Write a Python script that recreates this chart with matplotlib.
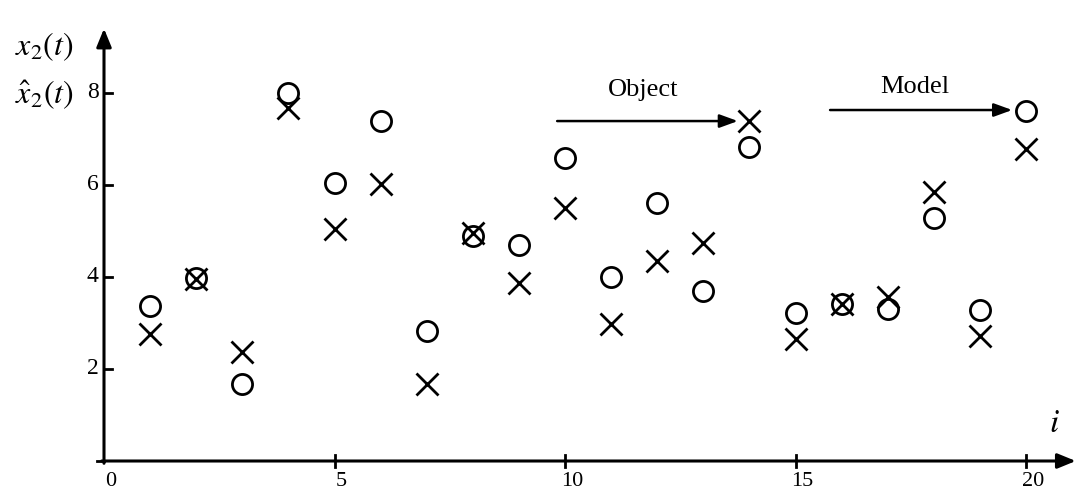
import numpy as np
import matplotlib
matplotlib.use("Agg")
import matplotlib.pyplot as plt

plt.rcParams['font.family'] = ['Liberation Serif', 'DejaVu Serif']
plt.rcParams['mathtext.fontset'] = 'stix'

# sample index and values
i_vals = list(range(1, 21))
model = [3.37, 3.98, 1.67, 8.00, 6.04, 7.39, 2.83, 4.89, 4.70, 6.59,
         4.00, 5.61, 3.70, 6.83, 3.22, 3.41, 3.30, 5.28, 3.28, 7.61]
obj = [2.76, 3.96, 2.37, 7.67, 5.04, 6.02, 1.67, 4.96, 3.87, 5.50,
       2.98, 4.35, 4.74, 7.39, 2.65, 3.41, 3.57, 5.85, 2.72, 6.78]
x_ticks = [0, 5, 10, 15, 20]
y_ticks = [2, 4, 6, 8]

fig = plt.figure(figsize=(10.76, 4.93), dpi=100)
ax = fig.add_axes([0, 0, 1, 1])
ax.set_xlim(-104 / 46.1, (1076 - 104) / 46.1)
ax.set_ylim(-(493 - 461) / 46.0, 461 / 46.0)
ax.axis('off')

# axes with arrows
arrow = dict(arrowstyle='-|>,head_length=1.1,head_width=0.45', color='black', lw=2.2,
             shrinkA=0, shrinkB=0)
ax.annotate('', xy=(21.08, 0), xytext=(-0.05, 0), arrowprops=arrow)
ax.annotate('', xy=(0, 9.4), xytext=(0, -0.05), arrowprops=arrow)

# ticks
for t in x_ticks[1:]:
    ax.plot([t, t], [-0.12, 0.12], color='black', lw=2)
for t in x_ticks:
    ax.text(t + 0.15, -0.54, str(t), fontsize=16, ha='center', va='baseline')
for t in y_ticks:
    ax.plot([0, 0.17], [t, t], color='black', lw=2)
    ax.text(-0.12, t, str(t), fontsize=17, ha='right', va='center')
ax.plot([-0.15, 0], [0, 0], color='black', lw=2)

# points
ax.plot(i_vals, model, 'o', ms=14.5, mfc='none', mec='black', mew=2)
ax.plot(i_vals, obj, 'x', ms=16.5, mec='black', mew=2)

# labels
ax.text(20.62, 0.8, r'$i$', fontsize=24, ha='center', va='center')
ax.text(-1.3, 9.0, r'$x_2\left(t\right)$', fontsize=23, ha='center', va='center')
ax.text(-1.3, 7.95, r'$\hat{x}_2\left(t\right)$', fontsize=23, ha='center', va='center')

# annotations
head = dict(arrowstyle='-|>,head_length=1.1,head_width=0.4', color='black', lw=1.8,
            shrinkA=0, shrinkB=0)
ax.annotate('', xy=(13.75, 7.39), xytext=(9.83, 7.39), arrowprops=head)
ax.text(11.69, 8.07, 'Object', fontsize=19, ha='center', va='center')
ax.annotate('', xy=(19.70, 7.63), xytext=(15.75, 7.63), arrowprops=head)
ax.text(17.59, 8.13, 'Model', fontsize=19, ha='center', va='center')

fig.savefig('out.png', dpi=100)
